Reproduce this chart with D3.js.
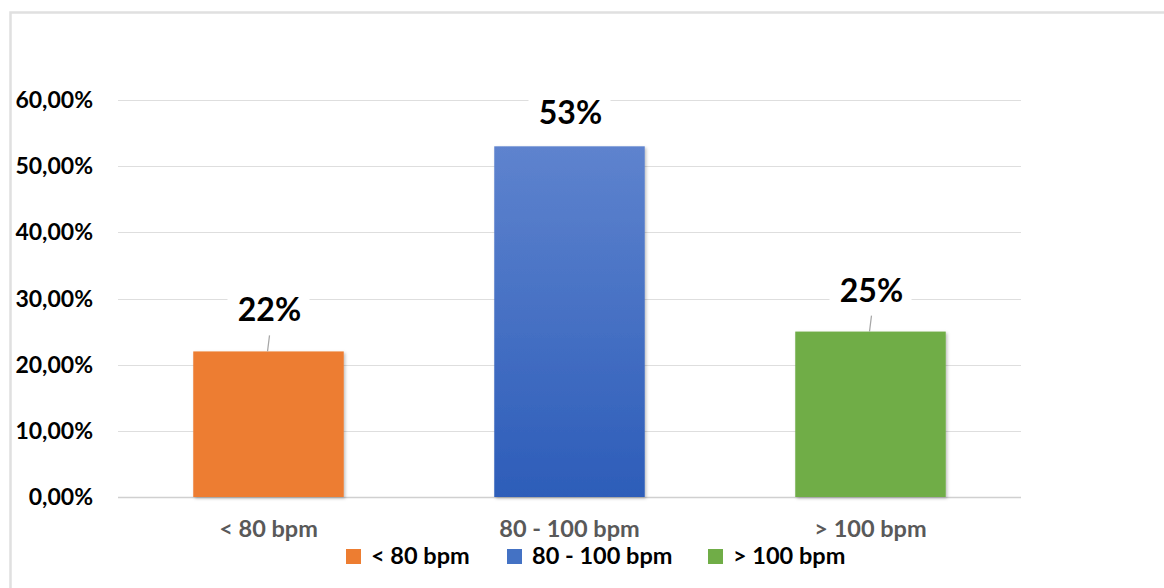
<!DOCTYPE html>
<html><head><meta charset="utf-8">
<script src="https://cdn.jsdelivr.net/npm/d3@7"></script>
<style>body{margin:0;background:#fff}svg{display:block}</style>
</head><body><svg id="c" width="1164" height="588"></svg>
<script>
const categories = ["< 80 bpm", "80 - 100 bpm", "> 100 bpm"];
const values = [0.22, 0.53, 0.25];
const valueLabels = ["22%", "53%", "25%"];
const yTicks = [0, 0.1, 0.2, 0.3, 0.4, 0.5, 0.6];
const colors = ["#ed7d31", "#4472c4", "#70ad47"];

const font = "Lato, 'Open Sans', sans-serif";
const svg = d3.select("#c");
const defs = svg.append("defs");
const grad = defs.append("linearGradient").attr("id","blueGrad").attr("x1",0).attr("y1",0).attr("x2",0).attr("y2",1);
grad.append("stop").attr("offset","0%").attr("stop-color","#5e83ce");
grad.append("stop").attr("offset","100%").attr("stop-color","#2d5db9");
const f = defs.append("filter").attr("id","sh").attr("x","-10%").attr("y","-10%").attr("width","130%").attr("height","130%");
f.append("feDropShadow").attr("dx",1.5).attr("dy",1.5).attr("stdDeviation",1.5).attr("flood-color","#000").attr("flood-opacity",0.25);

// outer border
svg.append("path").attr("d","M10.5,588 V12.5 H1164").attr("fill","none").attr("stroke","#e0e0e0").attr("stroke-width",2.5);

const x = d3.scaleBand().domain(categories).range([118,1021]).paddingInner(0.5).paddingOuter(0.25);
const y = d3.scaleLinear().domain([0,0.6]).range([497,100]);

// gridlines
svg.append("g").selectAll("line").data(yTicks).join("line")
  .attr("x1",118).attr("x2",1021).attr("y1",d=>Math.round(y(d))+0.5).attr("y2",d=>Math.round(y(d))+0.5)
  .attr("stroke",d=>d===0?"#d0d0d0":"#dedede").attr("stroke-width",d=>d===0?1.5:1.2);

// y axis labels
const yAxis = d3.axisLeft(y).tickValues(yTicks).tickSize(0).tickPadding(0)
  .tickFormat(d=>d3.format(".2f")(d*100).replace(".",",")+"%");
const ya = svg.append("g").attr("transform","translate(93,0)").call(yAxis);
ya.select(".domain").remove();
ya.selectAll("text").attr("font-family",font).attr("font-weight","bold").attr("font-size",23).attr("fill","#000").attr("dy","0.33em");

// bars
svg.append("g").selectAll("rect").data(values).join("rect")
  .attr("x",(d,i)=>x(categories[i])).attr("width",x.bandwidth())
  .attr("y",d=>y(d)).attr("height",d=>y(0)-y(d))
  .attr("fill",(d,i)=>i===1?"url(#blueGrad)":colors[i])
  .attr("filter","url(#sh)");

// labels with white background boxes and leader lines
const labelPos = [{dy:-42, lead:true},{dy:-34, lead:false},{dy:-42, lead:true}];
const lg = svg.append("g");
values.forEach((v,i)=>{
  const cx = x(categories[i]) + x.bandwidth()/2;
  const base = y(v) + labelPos[i].dy + 12;
  if(labelPos[i].lead){
    lg.append("line").attr("x1",cx+1).attr("y1",y(v)-16).attr("x2",cx-1).attr("y2",y(v))
      .attr("stroke","#a6a6a6").attr("stroke-width",1.2);
  }
  lg.append("rect").attr("x",cx-41).attr("y",base-26).attr("width",82).attr("height",30).attr("fill","#fff");
  lg.append("text").attr("x",cx+1).attr("y",base).attr("text-anchor","middle")
    .attr("font-family",font).attr("font-weight","bold").attr("font-size",32).attr("fill","#000")
    .text(valueLabels[i]);
});

// category labels
const xAxis = d3.axisBottom(x).tickSize(0).tickPadding(0);
const xa = svg.append("g").attr("transform","translate(0,537)").call(xAxis);
xa.select(".domain").remove();
xa.selectAll("text").attr("font-family",font).attr("font-weight","bold").attr("font-size",23.5).attr("fill","#595959").attr("dy",0);

// legend
const legendX = [346, 507, 708];
const leg = svg.append("g");
categories.forEach((c,i)=>{
  leg.append("rect").attr("x",legendX[i]).attr("y",549).attr("width",15).attr("height",15)
    .attr("fill",i===1?"#4472c4":colors[i]);
  leg.append("text").attr("x",legendX[i]+25).attr("y",564).attr("font-family",font).attr("font-weight","bold")
    .attr("font-size",23.5).attr("fill","#000").text(c);
});
</script></body></html>
